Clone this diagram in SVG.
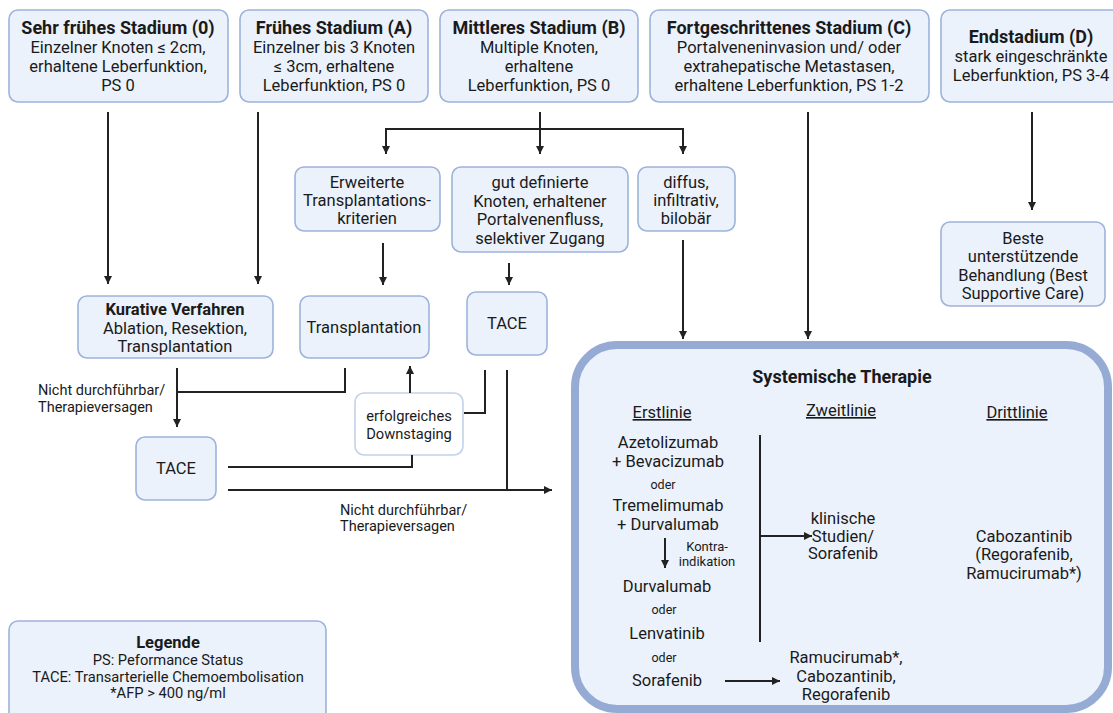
<svg xmlns="http://www.w3.org/2000/svg" width="1113" height="713" viewBox="0 0 1113 713">
<defs>
<style>
.box{fill:#ebf2fb;stroke:#9db3da;stroke-width:1.6}
.big{fill:#ebf2fb;stroke:#95abd4;stroke-width:8}
text{font-family:Roboto,"Liberation Sans",sans-serif;fill:#1a1a1a;text-anchor:middle}
.t{font-size:16.5px}
.b{font-size:18px;font-weight:bold}
.s{font-size:12.5px}
.k{font-size:13px}
.l{font-size:14.5px;text-anchor:start}
.u{font-size:16.5px;text-decoration:underline}
.g{font-size:14.7px}
.lg{font-size:16.5px;font-weight:bold}
.c{fill:none;stroke:#222;stroke-width:2}
</style>
<marker id="ah" markerWidth="10" markerHeight="10" refX="8" refY="4" orient="auto" markerUnits="userSpaceOnUse">
<path d="M0,0 L8,4 L0,8 Z" fill="#222"/>
</marker>
</defs>
<rect width="1113" height="713" fill="#ffffff"/>

<g id="stage0">
<rect class="box" x="9" y="10" width="219" height="92" rx="9"/>
<text class="b" x="118" y="34">Sehr frühes Stadium (0)</text>
<text class="t" x="118" y="53">Einzelner Knoten ≤ 2cm,</text>
<text class="t" x="118" y="72">erhaltene Leberfunktion,</text>
<text class="t" x="118" y="91">PS 0</text>
</g>
<g id="stageA">
<rect class="box" x="240" y="10" width="188" height="92" rx="9"/>
<text class="b" x="334" y="34">Frühes Stadium (A)</text>
<text class="t" x="334" y="53">Einzelner bis 3 Knoten</text>
<text class="t" x="334" y="72">≤ 3cm, erhaltene</text>
<text class="t" x="334" y="91">Leberfunktion, PS 0</text>
</g>
<g id="stageB">
<rect class="box" x="440" y="10" width="198" height="92" rx="9"/>
<text class="b" x="539" y="34">Mittleres Stadium (B)</text>
<text class="t" x="539" y="53">Multiple Knoten,</text>
<text class="t" x="539" y="72">erhaltene</text>
<text class="t" x="539" y="91">Leberfunktion, PS 0</text>
</g>
<g id="stageC">
<rect class="box" x="650" y="10" width="279" height="92" rx="9"/>
<text class="b" x="789" y="34">Fortgeschrittenes Stadium (C)</text>
<text class="t" x="789" y="53">Portalveneninvasion und/ oder</text>
<text class="t" x="789" y="72">extrahepatische Metastasen,</text>
<text class="t" x="789" y="91">erhaltene Leberfunktion, PS 1-2</text>
</g>
<g id="stageD">
<rect class="box" x="941" y="10" width="180" height="92" rx="9"/>
<text class="b" x="1031" y="43">Endstadium (D)</text>
<text class="t" x="1031" y="62">stark eingeschränkte</text>
<text class="t" x="1031" y="81">Leberfunktion, PS 3-4</text>
</g>

<g id="erweiterte">
<rect class="box" x="295" y="167" width="145" height="64" rx="9"/>
<text class="t" x="367" y="188">Erweiterte</text>
<text class="t" x="367" y="206">Transplantations-</text>
<text class="t" x="367" y="224">kriterien</text>
</g>
<g id="gutdefiniert">
<rect class="box" x="452" y="167" width="176" height="85" rx="9"/>
<text class="t" x="540" y="188">gut definierte</text>
<text class="t" x="540" y="207">Knoten, erhaltener</text>
<text class="t" x="540" y="225">Portalvenenfluss,</text>
<text class="t" x="540" y="244">selektiver Zugang</text>
</g>
<g id="diffus">
<rect class="box" x="638" y="167" width="97" height="64" rx="9"/>
<text class="t" x="686" y="188">diffus,</text>
<text class="t" x="686" y="206">infiltrativ,</text>
<text class="t" x="686" y="224">bilobär</text>
</g>
<g id="bsc">
<rect class="box" x="941" y="222" width="164" height="84" rx="9"/>
<text class="t" x="1023" y="244">Beste</text>
<text class="t" x="1023" y="262">unterstützende</text>
<text class="t" x="1023" y="281">Behandlung (Best</text>
<text class="t" x="1023" y="299">Supportive Care)</text>
</g>

<g id="kurativ">
<rect class="box" x="78" y="296" width="195" height="62" rx="9"/>
<text class="t" x="175" y="315" font-weight="bold">Kurative Verfahren</text>
<text class="t" x="175" y="334">Ablation, Resektion,</text>
<text class="t" x="175" y="352">Transplantation</text>
</g>
<g id="transplantation">
<rect class="box" x="300" y="296" width="129" height="62" rx="9"/>
<text class="t" x="364" y="333">Transplantation</text>
</g>
<g id="tace1">
<rect class="box" x="467" y="292" width="80" height="63" rx="9"/>
<text class="t" x="507" y="329">TACE</text>
</g>
<g id="downstaging">
<rect x="355" y="393" width="108" height="62" rx="9" fill="#ffffff" stroke="#c3d1ea" stroke-width="1.6"/>
<text class="g" x="409" y="421">erfolgreiches</text>
<text class="g" x="409" y="439">Downstaging</text>
</g>
<g id="tace2">
<rect class="box" x="136" y="437" width="80" height="63" rx="9"/>
<text class="t" x="176" y="474">TACE</text>
</g>

<g id="systemisch">
<rect class="big" x="575" y="345" width="533" height="364" rx="42"/>
<text class="b" x="842" y="383">Systemische Therapie</text>
<text class="u" x="662" y="418">Erstlinie</text>
<text class="u" x="841" y="416">Zweitlinie</text>
<text class="u" x="1017" y="418">Drittlinie</text>
<text class="t" x="668" y="448">Azetolizumab</text>
<text class="t" x="668" y="467">+ Bevacizumab</text>
<text class="s" x="663" y="489">oder</text>
<text class="t" x="668" y="511">Tremelimumab</text>
<text class="t" x="668" y="530">+ Durvalumab</text>
<text class="k" x="707" y="551">Kontra-</text>
<text class="k" x="707" y="566">indikation</text>
<text class="t" x="667" y="592">Durvalumab</text>
<text class="s" x="664" y="614">oder</text>
<text class="t" x="667" y="639">Lenvatinib</text>
<text class="s" x="664" y="662">oder</text>
<text class="t" x="667" y="686">Sorafenib</text>
<text class="t" x="843" y="524">klinische</text>
<text class="t" x="843" y="542">Studien/</text>
<text class="t" x="843" y="559">Sorafenib</text>
<text class="t" x="846" y="663">Ramucirumab*,</text>
<text class="t" x="846" y="682">Cabozantinib,</text>
<text class="t" x="846" y="700">Regorafenib</text>
<text class="t" x="1024" y="542">Cabozantinib</text>
<text class="t" x="1024" y="560">(Regorafenib,</text>
<text class="t" x="1024" y="579">Ramucirumab*)</text>
</g>

<g id="legende">
<rect class="box" x="9" y="621" width="317" height="100" rx="9"/>
<text class="lg" x="168" y="648">Legende</text>
<text class="g" x="168" y="665">PS: Peformance Status</text>
<text class="g" x="168" y="682">TACE: Transarterielle Chemoembolisation</text>
<text class="g" x="168" y="698">*AFP &gt; 400 ng/ml</text>
</g>

<g id="labels">
<text class="l" x="38" y="395">Nicht durchführbar/</text>
<text class="l" x="38" y="412">Therapieversagen</text>
<text class="l" x="340" y="515">Nicht durchführbar/</text>
<text class="l" x="340" y="531">Therapieversagen</text>
</g>

<g id="connectors">
<path class="c" d="M108,112 V284" marker-end="url(#ah)"/>
<path class="c" d="M258,112 V284" marker-end="url(#ah)"/>
<path class="c" d="M540,112 V129"/>
<path class="c" d="M386,129 H683"/>
<path class="c" d="M386,128 V154" marker-end="url(#ah)"/>
<path class="c" d="M540,128 V154" marker-end="url(#ah)"/>
<path class="c" d="M683,128 V154" marker-end="url(#ah)"/>
<path class="c" d="M808,112 V339" marker-end="url(#ah)"/>
<path class="c" d="M1032,112 V210" marker-end="url(#ah)"/>
<path class="c" d="M383,243 V285" marker-end="url(#ah)"/>
<path class="c" d="M509,263 V285" marker-end="url(#ah)"/>
<path class="c" d="M683,240 V339" marker-end="url(#ah)"/>
<path class="c" d="M177,368 V427" marker-end="url(#ah)"/>
<path class="c" d="M345,368 V392 H177"/>
<path class="c" d="M410,393 V366" marker-end="url(#ah)"/>
<path class="c" d="M228,467 H412 V455"/>
<path class="c" d="M485,370 V413 H464"/>
<path class="c" d="M507,370 V490"/>
<path class="c" d="M228,490 H552" marker-end="url(#ah)"/>
<path class="c" d="M760,435 V642"/>
<path class="c" d="M761,536 H812" marker-end="url(#ah)"/>
<path class="c" d="M665,538 V568" marker-end="url(#ah)"/>
<path class="c" d="M725,681 H780" marker-end="url(#ah)"/>
</g>
</svg>
